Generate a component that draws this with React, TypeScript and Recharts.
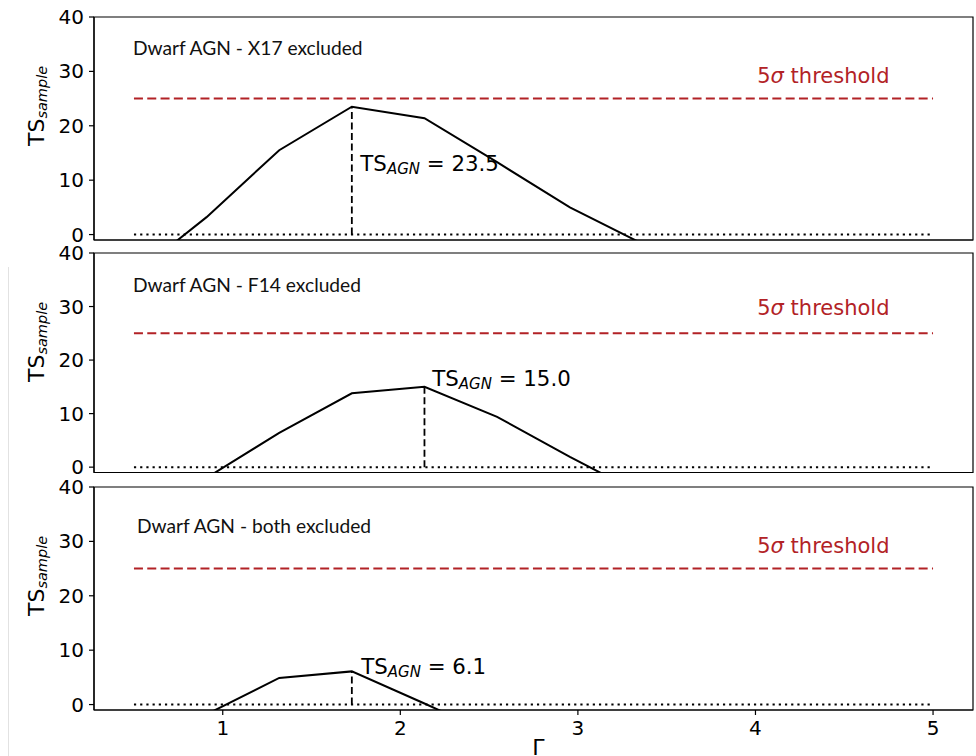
import React from 'react';
import {
  ComposedChart,
  Line,
  XAxis,
  YAxis,
  ReferenceLine,
  ReferenceArea,
  ReferenceDot,
} from 'recharts';

// Photon-index grid of the likelihood scan (points beyond the drawn range are omitted)
const gamma = [0.5, 0.909, 1.318, 1.727, 2.136, 2.545, 2.955, 3.364];

// Stacked test statistic of the sample for each exclusion case
const tsX17Excluded = [-7.4, 3.2, 15.5, 23.5, 21.4, 13.3, 5.0, -1.7];
const tsF14Excluded = [null, -2.0, 6.4, 13.8, 15.0, 9.4, 1.9, -5.1];
const tsBothExcluded = [null, -1.8, 4.9, 6.1, 0.2, -5.9, null, null];

const panelTitles = [
  'Dwarf AGN - X17 excluded',
  'Dwarf AGN - F14 excluded',
  'Dwarf AGN - both excluded',
];

// Best-fit index and maximum TS of each case
const peakGamma = [1.727, 2.136, 1.727];
const peakTs = [23.5, 15.0, 6.1];

const THRESHOLD_5SIGMA = 25;
const gammaSpan = [0.5, 5];
const xTicks = [1, 2, 3, 4, 5];
const yTicks = [0, 10, 20, 30, 40];

const seriesList = [tsX17Excluded, tsF14Excluded, tsBothExcluded];

// Figure layout: plot-area top/bottom in pixels and annotation anchors in data units
const W = 976;
const H = 756;
const X_AXIS_H = 40;
const PLOT_LEFT = 94;
const PLOT_RIGHT = 973;
const X_DOMAIN: [number, number] = [0.275, 5.225];
const Y_DOMAIN: [number, number] = [-1, 40];

const PANELS = [
  { top: 17, bottom: 240, title: [0.494, 33.0], thr: [4.01, 27.9], note: [1.775, 11.6] },
  { top: 253, bottom: 472.5, title: [0.494, 32.8], thr: [4.01, 28.5], note: [2.18, 15.2] },
  { top: 487, bottom: 710, title: [0.517, 31.5], thr: [4.01, 27.8], note: [1.78, 5.7] },
];

const MPL_FONT = '"DejaVu Sans", sans-serif';
const TITLE_FONT = 'Lato, "Open Sans", sans-serif';
const RED = '#b22226';

const anchorPoint = (props: any) => {
  const vb = props.viewBox || {};
  return { x: (vb.x || 0) + (vb.width || 0) / 2, y: (vb.y || 0) + (vb.height || 0) / 2 };
};

const TitleText = (text: string) => (props: any) => {
  const { x, y } = anchorPoint(props);
  return (
    <text x={x} y={y} fontFamily={TITLE_FONT} fontSize={19.2} fill="#111">
      {text}
    </text>
  );
};

const ThresholdText = (props: any) => {
  const { x, y } = anchorPoint(props);
  return (
    <text x={x} y={y} fontFamily={MPL_FONT} fontSize={21} fill={RED}>
      5<tspan fontStyle="italic">σ</tspan> threshold
    </text>
  );
};

const PeakText = (value: number) => (props: any) => {
  const { x, y } = anchorPoint(props);
  return (
    <text x={x} y={y} fontFamily={MPL_FONT} fontSize={21.3} fill="#000">
      TS
      <tspan fontStyle="italic" fontSize={15} dy={3}>
        AGN
      </tspan>
      <tspan dy={-3}>{` = ${value.toFixed(1)}`}</tspan>
    </text>
  );
};

const YLabel = (props: any) => {
  const vb = props.viewBox || {};
  const x = 43.5;
  const y = (vb.y || 0) + 129;
  return (
    <text x={x} y={y} transform={`rotate(-90, ${x}, ${y})`} fontFamily={MPL_FONT} fontSize={22} fill="#000">
      TS
      <tspan fontStyle="italic" fontSize={14.5} dy={3}>
        sample
      </tspan>
    </text>
  );
};

const XLabel = (props: any) => {
  const vb = props.viewBox || {};
  const x = (vb.x || 0) + (vb.width || 0) / 2 + 5;
  return (
    <text x={x} y={755} textAnchor="middle" fontFamily={MPL_FONT} fontSize={22} fill="#000">
      Γ
    </text>
  );
};

const tickStyle = { fontFamily: MPL_FONT, fontSize: 20, fill: '#000' };

function Panel({ index }: { index: number }) {
  const p = PANELS[index];
  const series = seriesList[index];
  const rows = gamma
    .map((g, i) => ({ g, ts: series[i] }))
    .filter((r) => r.ts !== null && r.ts !== undefined);
  const isLast = index === PANELS.length - 1;

  return (
    <div style={{ position: 'absolute', left: 0, top: 0 }}>
      <ComposedChart
        width={W}
        height={H}
        data={rows}
        margin={{ top: p.top, right: W - PLOT_RIGHT, bottom: H - p.bottom - X_AXIS_H, left: 0 }}
      >
        <XAxis
          dataKey="g"
          type="number"
          domain={X_DOMAIN}
          ticks={xTicks}
          allowDataOverflow
          height={X_AXIS_H}
          tickSize={5}
          tickMargin={6}
          tick={isLast ? tickStyle : false}
          axisLine={{ stroke: '#000', strokeWidth: 1.2 }}
          tickLine={{ stroke: '#000', strokeWidth: 1.2 }}
          label={isLast ? { content: XLabel } : undefined}
        />
        <YAxis
          type="number"
          domain={Y_DOMAIN}
          ticks={yTicks}
          allowDataOverflow
          width={PLOT_LEFT}
          tickSize={5}
          tickMargin={5}
          tick={tickStyle}
          axisLine={{ stroke: '#000', strokeWidth: 1.2 }}
          tickLine={{ stroke: '#000', strokeWidth: 1.2 }}
          label={{ content: YLabel }}
        />
        <ReferenceArea
          x1={X_DOMAIN[0]}
          x2={X_DOMAIN[1]}
          y1={Y_DOMAIN[0]}
          y2={Y_DOMAIN[1]}
          fill="none"
          fillOpacity={0}
          stroke="#000"
          strokeWidth={1.2}
          ifOverflow="visible"
        />
        <ReferenceLine
          segment={[
            { x: gammaSpan[0], y: THRESHOLD_5SIGMA },
            { x: gammaSpan[1], y: THRESHOLD_5SIGMA },
          ]}
          stroke={RED}
          strokeWidth={2}
          strokeDasharray="9 4.3"
        />
        <ReferenceLine
          segment={[
            { x: gammaSpan[0], y: 0 },
            { x: gammaSpan[1], y: 0 },
          ]}
          stroke="#000"
          strokeWidth={2}
          strokeDasharray="2.2 4"
        />
        <ReferenceLine
          segment={[
            { x: peakGamma[index], y: 0 },
            { x: peakGamma[index], y: peakTs[index] },
          ]}
          stroke="#000"
          strokeWidth={1.8}
          strokeDasharray="7 3.5"
        />
        <Line
          type="linear"
          dataKey="ts"
          stroke="#000"
          strokeWidth={2}
          dot={false}
          activeDot={false}
          isAnimationActive={false}
        />
        <ReferenceDot x={p.title[0]} y={p.title[1]} r={0} stroke="none" fill="none" label={TitleText(panelTitles[index])} />
        <ReferenceDot x={p.thr[0]} y={p.thr[1]} r={0} stroke="none" fill="none" label={ThresholdText} />
        <ReferenceDot x={p.note[0]} y={p.note[1]} r={0} stroke="none" fill="none" label={PeakText(peakTs[index])} />
      </ComposedChart>
    </div>
  );
}

export default function App() {
  return (
    <div
      style={{
        position: 'absolute',
        left: 0,
        top: 0,
        width: W,
        height: H,
        overflow: 'hidden',
        background: '#fff',
      }}
    >
      <div style={{ position: 'absolute', left: 8, top: 267, width: 1, height: H - 267, background: '#e2e2e2' }} />
      {PANELS.map((_, i) => (
        <Panel key={i} index={i} />
      ))}
    </div>
  );
}
